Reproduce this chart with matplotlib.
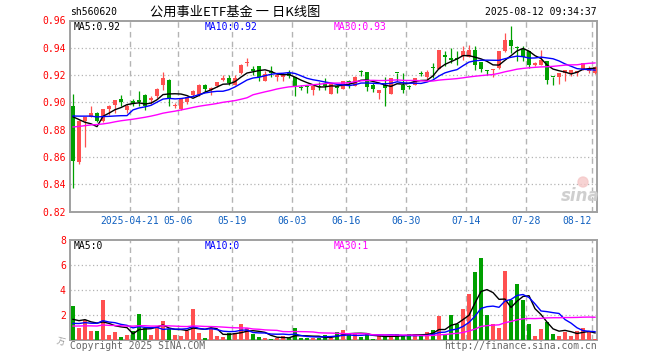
import matplotlib
matplotlib.use('Agg')
import matplotlib.pyplot as plt
from matplotlib.patches import Ellipse
import numpy as np
import pandas as pd

plt.rcParams['font.family'] = ['DejaVu Sans Mono', 'Noto Sans CJK SC']

# ---------------- data ----------------
symbol = "sh560620"
title = "公用事业ETF基金 一 日K线图"
timestamp = "2025-08-12 09:34:37"
holidays = ['2025-05-01', '2025-05-02', '2025-05-05', '2025-06-02']
dates = [d for d in pd.bdate_range('2025-04-07', '2025-08-12')
         if d.strftime('%Y-%m-%d') not in holidays]

opens = [0.897, 0.856, 0.886, 0.8895, 0.8924, 0.8866, 0.895, 0.8981, 0.9025, 0.8944,
         0.901, 0.902, 0.9055, 0.9018, 0.9047, 0.9129, 0.9165, 0.8972, 0.895, 0.9003,
         0.9055, 0.9055, 0.9129, 0.9092, 0.9117, 0.9165, 0.9182, 0.9129, 0.9215, 0.929,
         0.9246, 0.9263, 0.916, 0.9227, 0.9185, 0.9185, 0.9217, 0.9185, 0.9116, 0.9114,
         0.9087, 0.9121, 0.9136, 0.9062, 0.9121, 0.9099, 0.9158, 0.9121, 0.9225, 0.9222,
         0.9129, 0.9067, 0.9129, 0.9062, 0.9215, 0.9129, 0.9117, 0.9129, 0.9211, 0.9185,
         0.9253, 0.9244, 0.935, 0.9325, 0.9319, 0.9337, 0.9333, 0.9386, 0.9293, 0.9239,
         0.9234, 0.9252, 0.9374, 0.946, 0.9404, 0.9392, 0.9374, 0.9276, 0.9276, 0.930,
         0.9187, 0.9185, 0.9215, 0.9215, 0.9215, 0.9239, 0.9227, 0.9215]
highs = [0.906, 0.887, 0.8895, 0.897, 0.893, 0.895, 0.898, 0.902, 0.9055, 0.899,
         0.9025, 0.9085, 0.906, 0.9046, 0.9104, 0.9226, 0.9168, 0.8995, 0.9027, 0.9045,
         0.9088, 0.9136, 0.9136, 0.9115, 0.915, 0.9204, 0.9204, 0.9204, 0.928, 0.9325,
         0.927, 0.9268, 0.9227, 0.9263, 0.9205, 0.9215, 0.924, 0.9185, 0.9129, 0.9129,
         0.9125, 0.9146, 0.9178, 0.9145, 0.913, 0.916, 0.9165, 0.919, 0.9239, 0.9224,
         0.9141, 0.909, 0.9185, 0.918, 0.9215, 0.9215, 0.9129, 0.918, 0.9227, 0.9239,
         0.9288, 0.9386, 0.9374, 0.940, 0.9374, 0.9416, 0.9423, 0.9416, 0.9295, 0.924,
         0.9245, 0.938, 0.9509, 0.9563, 0.9411, 0.9411, 0.9376, 0.9293, 0.9386, 0.9302,
         0.9188, 0.9218, 0.924, 0.924, 0.9228, 0.929, 0.9263, 0.9263]
lows = [0.837, 0.855, 0.867, 0.889, 0.8855, 0.8855, 0.891, 0.8924, 0.897, 0.892,
        0.897, 0.897, 0.8944, 0.899, 0.9035, 0.9091, 0.8974, 0.896, 0.8945, 0.8985,
        0.9047, 0.9047, 0.9075, 0.9055, 0.911, 0.916, 0.9129, 0.9125, 0.921, 0.9266,
        0.920, 0.9153, 0.9155, 0.9185, 0.916, 0.916, 0.918, 0.9047, 0.909, 0.9072,
        0.9055, 0.9092, 0.9092, 0.906, 0.9072, 0.9095, 0.9106, 0.912, 0.9195, 0.9084,
        0.9075, 0.9025, 0.8976, 0.906, 0.9153, 0.9072, 0.910, 0.9125, 0.919, 0.9165,
        0.9178, 0.9244, 0.9263, 0.9288, 0.9276, 0.9313, 0.933, 0.9239, 0.9219, 0.9202,
        0.9185, 0.9245, 0.937, 0.9362, 0.930, 0.930, 0.9252, 0.9263, 0.9276, 0.9136,
        0.9129, 0.9136, 0.9153, 0.9195, 0.9195, 0.9235, 0.9215, 0.921]
closes = [0.857, 0.886, 0.889, 0.8924, 0.8866, 0.895, 0.8974, 0.9018, 0.9001, 0.8974,
          0.899, 0.900, 0.8974, 0.9035, 0.9097, 0.9178, 0.9025, 0.898, 0.9025, 0.904,
          0.908, 0.9129, 0.910, 0.9108, 0.9146, 0.9182, 0.914, 0.9182, 0.9276, 0.9295,
          0.9227, 0.9185, 0.921, 0.9215, 0.9202, 0.9202, 0.919, 0.9116, 0.9104, 0.9112,
          0.9121, 0.9109, 0.9121, 0.9141, 0.9104, 0.9158, 0.9141, 0.9185, 0.9223, 0.9116,
          0.910, 0.9087, 0.9104, 0.9178, 0.9213, 0.9087, 0.9115, 0.9178, 0.9209, 0.9219,
          0.9251, 0.9381, 0.9333, 0.9308, 0.9317, 0.9374, 0.9381, 0.9276, 0.9245, 0.9227,
          0.9244, 0.9374, 0.9455, 0.9411, 0.9402, 0.9333, 0.9276, 0.9288, 0.9308, 0.9165,
          0.9183, 0.9215, 0.9239, 0.9239, 0.9227, 0.9288, 0.9244, 0.9256]
volumes = [2.75, 0.99, 1.6, 0.72, 0.72, 3.2, 0.4, 0.67, 0.27, 0.4,
           0.72, 2.08, 0.93, 0.4, 1.07, 1.52, 0.88, 0.4, 0.3, 0.72,
           2.48, 0.59, 0.19, 0.93, 0.32, 0.24, 0.53, 0.53, 1.28, 0.93,
           0.45, 0.27, 0.13, 0.08, 0.19, 0.32, 0.16, 0.93, 0.13, 0.13,
           0.19, 0.13, 0.4, 0.19, 0.61, 0.8, 0.53, 0.53, 0.24, 0.48,
           0.08, 0.32, 0.27, 0.32, 0.48, 0.32, 0.48, 0.48, 0.32, 0.61,
           0.83, 1.95, 0.48, 2.0, 1.25, 2.48, 3.68, 5.44, 6.56, 2.0,
           1.28, 0.99, 5.55, 3.2, 4.48, 3.2, 1.28, 0.35, 0.88, 1.47,
           0.48, 0.35, 0.67, 0.35, 0.75, 0.93, 0.72, 0.08]
# closes / volumes of the 29 sessions before the window (needed by the moving averages)
prior_closes = [0.874, 0.872, 0.876, 0.879, 0.881, 0.878, 0.875, 0.877, 0.880, 0.882,
                0.879, 0.876, 0.878, 0.880, 0.883, 0.879, 0.877, 0.876, 0.878, 0.879,
                0.887, 0.889, 0.892, 0.893, 0.892, 0.896, 0.899, 0.898, 0.897]
prior_volumes = [0.9, 1.2, 0.8, 1.1, 0.7, 1.3, 0.9, 1.0, 1.2, 0.8,
                 1.1, 0.9, 1.3, 1.0, 0.8, 1.2, 0.9, 1.1, 1.0, 1.0,
                 1.1, 0.9, 1.2, 0.8, 1.05, 1.5, 1.2, 1.6, 1.2]

tick_dates = ['2025-04-21', '2025-05-06', '2025-05-19', '2025-06-03', '2025-06-16',
              '2025-06-30', '2025-07-14', '2025-07-28', '2025-08-12']
tick_labels = ['2025-04-21', '05-06', '05-19', '06-03', '06-16',
               '06-30', '07-14', '07-28', '08-12']
price_ticks = [0.82, 0.84, 0.86, 0.88, 0.90, 0.92, 0.94, 0.96]
vol_ticks = [2, 4, 6, 8]
ma_windows = [5, 10, 30]
price_ma_values = ['0.92', '0.92', '0.93']
vol_ma_values = ['0', '0', '1']

# ---------------- style ----------------
RED = '#ff5050'
GREEN = '#00a000'
MA_COLORS = ['#000000', '#0000ff', '#ff00ff']
SPINE = '#a0a0a0'
GRID = '#b4b4b4'
W, H = 660, 360

fig = plt.figure(figsize=(6.6, 3.6), dpi=100)
fig.patch.set_facecolor('white')


def fx(px):
    return px / W


def fy(py):
    return 1 - py / H


ax = fig.add_axes([fx(70), fy(211.5), fx(527), 191 / H])
axv = fig.add_axes([fx(70), fy(340), fx(527), 100 / H])

n = len(closes)
x = np.arange(n)
date_str = [d.strftime('%Y-%m-%d') for d in dates]
tick_idx = [date_str.index(t) for t in tick_dates]
up = [c >= o for o, c in zip(opens, closes)]
colors = [RED if u else GREEN for u in up]

# candles
ax.vlines(x, lows, highs, colors=colors, linewidth=0.9, zorder=3)
body_bottom = [min(o, c) for o, c in zip(opens, closes)]
body_h = [max(abs(c - o), 0.0007) for o, c in zip(opens, closes)]
ax.bar(x, body_h, bottom=body_bottom, width=0.8, color=colors, linewidth=0, zorder=4)

# moving averages
all_close = pd.Series(prior_closes + closes)
all_vol = pd.Series(prior_volumes + volumes)
k = len(prior_closes)
for w, c in zip(ma_windows, MA_COLORS):
    ma = all_close.rolling(w).mean().iloc[k:].values
    ax.plot(x, ma, color=c, linewidth=1.0, zorder=5)
    mv = all_vol.rolling(w).mean().iloc[k:].values
    axv.plot(x, mv, color=c, linewidth=1.0, zorder=5)

# volume bars
axv.bar(x, volumes, width=0.8, color=colors, linewidth=0, zorder=3)

for a, yl, yt in [(ax, (0.82, 0.96), price_ticks), (axv, (0, 8), vol_ticks)]:
    a.set_xlim(-0.5, 87.33)
    a.set_ylim(*yl)
    a.set_facecolor('white')
    for s in a.spines.values():
        s.set_color(SPINE)
        s.set_linewidth(1.4)
    a.set_xticks([])
    a.set_yticks(yt)
    a.tick_params(axis='y', length=0, pad=3, labelsize=7, labelcolor='#ff0000')
    for t in yt:
        if yl[0] < t < yl[1]:
            a.axhline(t, color=GRID, linewidth=0.9, linestyle=(0, (1, 2)), zorder=1)
    for ti in tick_idx:
        a.axvline(ti - 0.5, color=GRID, linewidth=1.0, linestyle=(0, (4, 3)), zorder=1)

ax.set_yticklabels(['%.2f' % t for t in price_ticks])
axv.set_yticklabels(['%d' % t for t in vol_ticks])

# date labels under the price pane
xt = ax.get_xaxis_transform()
for j, (ti, lab) in enumerate(zip(tick_idx, tick_labels)):
    ha = 'right' if j == len(tick_idx) - 1 else 'center'
    ax.text(ti - 0.5, -9 / 191, lab, ha=ha, va='center', fontsize=7, color='#1060c0',
            transform=xt, clip_on=False)

# header
fig.text(fx(70), fy(12), symbol, ha='left', va='center', fontsize=7, color='black')
fig.text(fx(150), fy(12), title, ha='left', va='center', fontsize=9.5, color='black',
         family=['Noto Sans CJK SC', 'DejaVu Sans'])
fig.text(fx(597), fy(12), timestamp, ha='right', va='center', fontsize=7, color='black')

# MA legends
for xp, name, val, c in zip([74, 205, 334], ['MA5', 'MA10', 'MA30'], price_ma_values, MA_COLORS):
    fig.text(fx(xp), fy(26.5), '%s:%s' % (name, val), ha='left', va='center', fontsize=7, color=c)
for xp, name, val, c in zip([74, 205, 334], ['MA5', 'MA10', 'MA30'], vol_ma_values, MA_COLORS):
    fig.text(fx(xp), fy(246), '%s:%s' % (name, val), ha='left', va='center', fontsize=7, color=c)

# footer
fig.text(fx(70), fy(346), 'Copyright 2025 SINA.COM', ha='left', va='center', fontsize=7, color='#666666')
fig.text(fx(597), fy(346), 'http://finance.sina.com.cn', ha='right', va='center', fontsize=7, color='#666666')
fig.text(fx(61), fy(342), '万', ha='center', va='center', fontsize=6, color='#999999',
         family=['Noto Sans CJK SC', 'DejaVu Sans'], rotation=-15)

# watermark
fig.add_artist(Ellipse((fx(583), fy(182)), fx(10), 10 / H, color='#f5c8c8', alpha=0.8))
fig.text(fx(580), fy(196), 'sina', ha='center', va='center', fontsize=12, color='#cfcfcf',
         style='italic', weight='bold', family='DejaVu Sans')

fig.savefig('out.png', dpi=100, facecolor='white')
